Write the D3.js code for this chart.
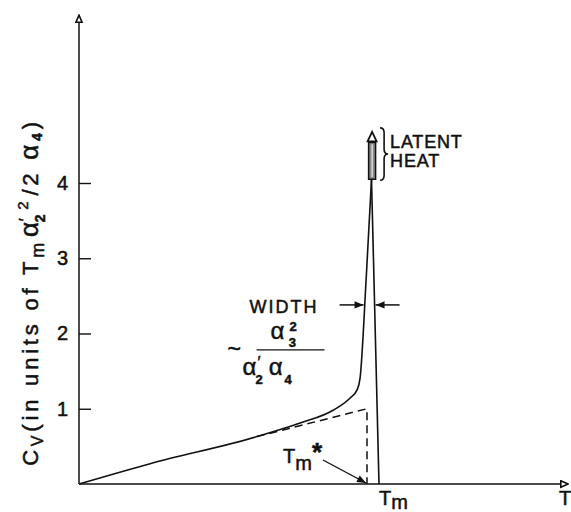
<!DOCTYPE html>
<html>
<head>
<meta charset="utf-8">
<script src="https://cdn.jsdelivr.net/npm/d3@7"></script>
<style>
  body { margin: 0; background: #fff; }
  svg text { font-family: "Liberation Sans", Arial, sans-serif; fill: #111; stroke: #111; stroke-width: 0.5; }
</style>
</head>
<body>
<div id="chart"></div>
<script>
// values (T in units of Tm, Cv in units of Tm a2'^2 / 2 a4)
const cvTicks = [1, 2, 3, 4];
const riseT  = [0, 0.237, 0.593, 0.737, 0.847, 0.903, 0.927, 0.937, 0.957, 0.975];
const riseCv = [0, 0.27, 0.63, 0.81, 0.98, 1.14, 1.25, 1.41, 2.71, 4.05];
const fallT  = [0.975, 1.0];
const fallCv = [4.05, 0];
const meanT  = [0.593, 0.96, 0.96];
const meanCv = [0.63, 1.0, 0];
const latentT = 0.977;
const latentCv = [4.05, 4.54];
const latentTip = 4.68;
const widthCv = 2.38;
const tmStar = 0.96, tm = 1.0;
const tMax = 1.63, cvMax = 6.23;

const W = 571, H = 512;
const svg = d3.select("#chart").append("svg")
  .attr("width", W).attr("height", H);

const x = d3.scaleLinear().domain([0, 1]).range([79, 379]);
const y = d3.scaleLinear().domain([0, 4]).range([484, 183]);

const defs = svg.append("defs");
defs.append("marker").attr("id", "open").attr("viewBox", "0 0 10 10")
  .attr("refX", 9).attr("refY", 5).attr("markerWidth", 9).attr("markerHeight", 9)
  .attr("markerUnits", "userSpaceOnUse").attr("orient", "auto")
  .append("path").attr("d", "M1,1.5 L9,5 L1,8.5 Z")
  .attr("fill", "#fff").attr("stroke", "#111").attr("stroke-width", 1.8);
defs.append("marker").attr("id", "solid").attr("viewBox", "0 0 10 10")
  .attr("refX", 10).attr("refY", 5).attr("markerWidth", 11).attr("markerHeight", 9)
  .attr("markerUnits", "userSpaceOnUse").attr("orient", "auto")
  .append("path").attr("d", "M0,1 L10,5 L0,9 Z").attr("fill", "#111");

// axes
svg.append("line")
  .attr("x1", x(0)).attr("x2", x(0)).attr("y1", y(0)).attr("y2", y(cvMax))
  .attr("stroke", "#111").attr("stroke-width", 1.5).attr("marker-end", "url(#open)");
svg.append("line")
  .attr("x1", x(0)).attr("x2", x(tMax)).attr("y1", y(0)).attr("y2", y(0))
  .attr("stroke", "#111").attr("stroke-width", 1.5).attr("marker-end", "url(#open)");

const yAxis = svg.append("g")
  .attr("transform", "translate(" + x(0) + ",0)")
  .call(d3.axisLeft(y).tickValues(cvTicks).tickFormat(d3.format("d"))
    .tickSizeInner(-12).tickSizeOuter(0).tickPadding(11));
yAxis.select(".domain").remove();
yAxis.selectAll("line").attr("stroke", "#111").attr("stroke-width", 1.4);
yAxis.selectAll("text").attr("font-size", 20).attr("font-family", null).attr("fill", "#111");

// curves
const line = d3.line().x(d => x(d[0])).y(d => y(d[1]));
svg.append("path")
  .datum(d3.zip(riseT, riseCv))
  .attr("d", line.curve(d3.curveMonotoneX))
  .attr("fill", "none").attr("stroke", "#111").attr("stroke-width", 1.6);
svg.append("path")
  .datum(d3.zip(fallT, fallCv))
  .attr("d", line.curve(d3.curveLinear))
  .attr("fill", "none").attr("stroke", "#111").attr("stroke-width", 1.6);
svg.append("path")
  .datum(d3.zip(meanT, meanCv))
  .attr("d", line.curve(d3.curveLinear))
  .attr("fill", "none").attr("stroke", "#111").attr("stroke-width", 1.5)
  .attr("stroke-dasharray", "8,5");

// latent heat bar
const lx = x(latentT);
svg.append("rect")
  .attr("x", lx - 3.5).attr("width", 7)
  .attr("y", y(latentCv[1])).attr("height", y(latentCv[0]) - y(latentCv[1]))
  .attr("fill", "#888").attr("stroke", "#111").attr("stroke-width", 1.5);
svg.append("line")
  .attr("x1", lx).attr("x2", lx).attr("y1", y(latentCv[1]) + 2).attr("y2", y(latentCv[0]) - 2)
  .attr("stroke", "#fff").attr("stroke-width", 1);
svg.append("path")
  .attr("d", "M" + lx + "," + y(latentTip) + " L" + (lx + 4.5) + "," + (y(latentCv[1]) - 1) +
    " L" + (lx - 4.5) + "," + (y(latentCv[1]) - 1) + " Z")
  .attr("fill", "#fff").attr("stroke", "#111").attr("stroke-width", 1.8);

// brace + label
const by0 = y(latentTip) - 4, by1 = y(latentCv[0]) + 1, bm = (by0 + by1) / 2, bx = lx + 8;
svg.append("path")
  .attr("d", `M${bx},${by0} Q${bx + 4},${by0} ${bx + 4},${by0 + 5} L${bx + 4},${bm - 5} Q${bx + 4},${bm} ${bx + 8},${bm}` +
    ` Q${bx + 4},${bm} ${bx + 4},${bm + 5} L${bx + 4},${by1 - 5} Q${bx + 4},${by1} ${bx},${by1}`)
  .attr("fill", "none").attr("stroke", "#111").attr("stroke-width", 1.6);
svg.append("text").attr("x", bx + 10).attr("y", bm - 6).attr("font-size", 18)
  .attr("letter-spacing", 0.8).text("LATENT");
svg.append("text").attr("x", bx + 10).attr("y", bm + 13).attr("font-size", 18)
  .attr("letter-spacing", 0.8).text("HEAT");

// width arrows
function branchT(ts, cs, v) {
  for (let i = 1; i < ts.length; i++) {
    const a = cs[i - 1], b = cs[i];
    if ((v - a) * (v - b) <= 0) return ts[i - 1] + (ts[i] - ts[i - 1]) * (v - a) / (b - a);
  }
  return ts[ts.length - 1];
}
const wy = y(widthCv);
const wl = x(branchT(riseT, riseCv, widthCv)), wr = x(branchT(fallT, fallCv, widthCv));
svg.append("line").attr("x1", wl - 25).attr("x2", wl - 1).attr("y1", wy).attr("y2", wy)
  .attr("stroke", "#111").attr("stroke-width", 1.5).attr("marker-end", "url(#solid)");
svg.append("line").attr("x1", wr + 25).attr("x2", wr + 1).attr("y1", wy).attr("y2", wy)
  .attr("stroke", "#111").attr("stroke-width", 1.5).attr("marker-end", "url(#solid)");
svg.append("text").attr("x", wl - 115).attr("y", wy + 8).attr("font-size", 18)
  .attr("letter-spacing", 2).text("WIDTH");

// ~ a3^2 / (a2' a4)
const fx = wl - 122, fy = wy + 45;
svg.append("text").attr("x", fx - 15).attr("y", fy + 7).attr("font-size", 23).text("~");
svg.append("line").attr("x1", fx + 14).attr("x2", fx + 82).attr("y1", fy).attr("y2", fy)
  .attr("stroke", "#111").attr("stroke-width", 1.4);
const num = svg.append("text").attr("x", fx + 28).attr("y", fy - 11);
num.append("tspan").attr("font-size", 24).text("α");
num.append("tspan").attr("font-size", 13).attr("font-weight", "bold").attr("dx", 5).attr("dy", -8).text("2");
num.append("tspan").attr("font-size", 13).attr("font-weight", "bold").attr("dx", -8).attr("dy", 16).text("3");
const den = svg.append("text").attr("x", fx).attr("y", fy + 25);
den.append("tspan").attr("font-size", 24).text("α");
den.append("tspan").attr("font-size", 16).attr("dx", 1).attr("dy", -7).text("′");
den.append("tspan").attr("font-size", 13).attr("font-weight", "bold").attr("dx", -5).attr("dy", 16).text("2");
den.append("tspan").attr("font-size", 24).attr("dx", 6).attr("dy", -9).text("α");
den.append("tspan").attr("font-size", 13).attr("font-weight", "bold").attr("dx", 2).attr("dy", 9).text("4");

// Tm* with arrow
const sx = x(tmStar);
const ts = svg.append("text").attr("x", sx - 84).attr("y", y(0) - 21);
ts.append("tspan").attr("font-size", 20).text("T");
ts.append("tspan").attr("font-size", 20).attr("dy", 7).text("m");
ts.append("tspan").attr("font-size", 26).attr("font-weight", "bold").attr("dy", -9).text("*");
svg.append("line").attr("x1", sx - 44).attr("x2", sx - 1).attr("y1", y(0) - 24).attr("y2", y(0) - 1)
  .attr("stroke", "#111").attr("stroke-width", 1.4).attr("marker-end", "url(#solid)");

// Tm and T labels under the axis
const tml = svg.append("text").attr("x", x(tm)).attr("y", y(0) + 21);
tml.append("tspan").attr("font-size", 20).text("T");
tml.append("tspan").attr("font-size", 20).attr("dy", 4).text("m");
svg.append("text").attr("x", x(tMax) - 3).attr("y", y(0) + 21).attr("text-anchor", "middle")
  .attr("font-size", 20).text("T");

// y label
const yl = svg.append("text")
  .attr("transform", "translate(38," + 292 + ") rotate(-90)")
  .attr("text-anchor", "middle").attr("font-size", 22).attr("letter-spacing", 3.8);
yl.append("tspan").text("C");
yl.append("tspan").attr("font-size", 16).attr("dy", 5).text("V");
yl.append("tspan").attr("dy", -5).text("(in units of T");
yl.append("tspan").attr("font-size", 18).attr("dy", 6).text("m");
yl.append("tspan").attr("font-size", 26).attr("dy", -6).attr("dx", 2).text("α");
yl.append("tspan").attr("font-size", 16).attr("dx", -3).attr("dy", -7).text("′");
yl.append("tspan").attr("font-size", 14).attr("font-weight", "bold").attr("dx", -8).attr("dy", 14).text("2");
yl.append("tspan").attr("font-size", 15).attr("dx", 1).attr("dy", -17).text("2");
yl.append("tspan").attr("dx", 2).attr("dy", 10).text("/2 ");
yl.append("tspan").attr("font-size", 26).text("α");
yl.append("tspan").attr("font-size", 14).attr("font-weight", "bold").attr("dy", 4).text("4");
yl.append("tspan").attr("dy", -4).text(")");
</script>
</body>
</html>
